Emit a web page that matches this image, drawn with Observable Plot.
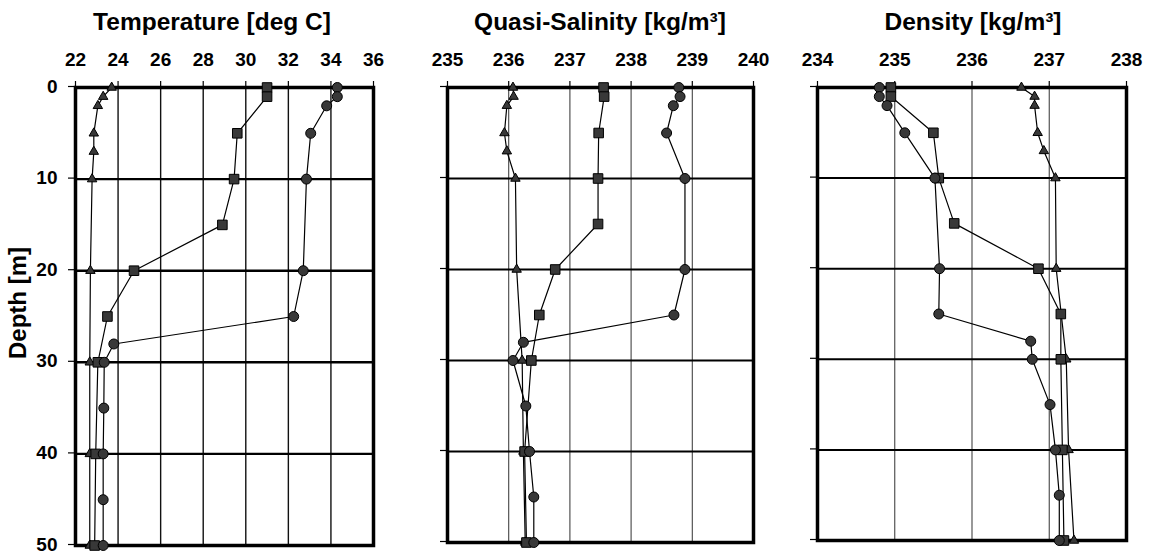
<!DOCTYPE html>
<html><head><meta charset="utf-8">
<script src="https://cdn.jsdelivr.net/npm/d3@7"></script>
<script src="https://cdn.jsdelivr.net/npm/@observablehq/plot@0.6"></script>
<style>
body{margin:0;background:#fff;}
#wrap{position:relative;width:1154px;height:555px;overflow:hidden;font-family:"Liberation Sans",Arial,sans-serif;font-weight:bold;color:#000;}
.title{position:absolute;top:10px;font-size:24.5px;line-height:1;white-space:nowrap;transform:translateX(-50%);}
.panel{position:absolute;top:0;}
#ylab{position:absolute;left:18px;top:303px;transform:translate(-50%,-50%) rotate(-90deg);font-size:24px;line-height:1;white-space:nowrap;}
</style></head>
<body><div id="wrap"></div>
<script>
// Depths (m) for each station / symbol series
const depthCircle = [0, 1, 2, 5, 10, 20, 25, 28, 30, 35, 40, 45, 50];
const depthSquare = [0, 1, 5, 10, 15, 20, 25, 30, 40, 50];
const depthTriangle = [0, 1, 2, 5, 7, 10, 20, 30, 40, 50];

// Temperature [deg C]
const tempCircle = [34.3, 34.3, 33.8, 33.05, 32.85, 32.7, 32.25, 23.8, 23.35, 23.33, 23.3, 23.3, 23.3];
const tempSquare = [31.0, 31.0, 29.6, 29.45, 28.9, 24.75, 23.5, 23.05, 22.95, 22.9];
const tempTriangle = [23.7, 23.3, 23.05, 22.86, 22.86, 22.78, 22.7, 22.67, 22.67, 22.67];

// Quasi-Salinity [kg/m3]
const salCircle = [238.78, 238.8, 238.69, 238.58, 238.88, 238.88, 238.7, 236.24, 236.07, 236.28, 236.34, 236.41, 236.41];
const salSquare = [237.55, 237.56, 237.47, 237.46, 237.46, 236.76, 236.5, 236.37, 236.26, 236.29];
const salTriangle = [236.07, 236.08, 235.97, 235.93, 235.97, 236.11, 236.13, 236.22, 236.24, 236.27];

// Density [kg/m3]
const denCircle = [234.8, 234.8, 234.9, 235.13, 235.52, 235.58, 235.57, 236.76, 236.78, 237.01, 237.08, 237.13, 237.13];
const denSquare = [234.95, 234.95, 235.5, 235.57, 235.77, 236.86, 237.15, 237.15, 237.17, 237.19];
const denTriangle = [236.64, 236.81, 236.81, 236.85, 236.93, 237.08, 237.09, 237.22, 237.25, 237.32];

// Axis ticks
const tempTicks = [22, 24, 26, 28, 30, 32, 34, 36];
const salTicks = [235, 236, 237, 238, 239, 240];
const denTicks = [234, 235, 236, 237, 238];
const depthTicks = [0, 10, 20, 30, 40, 50];
const depthGrid = [10, 20, 30, 40];

const titles = ["Temperature [deg C]", "Quasi-Salinity [kg/m\u00b3]", "Density [kg/m\u00b3]"];

const wrap = document.getElementById("wrap");

function rows(depths, values) {
  return depths.map((d, i) => ({depth: d, value: values[i]}));
}

function panel(cfg) {
  const c = rows(depthCircle, cfg.circ);
  const s = rows(depthSquare, cfg.sq);
  const t = rows(depthTriangle, cfg.tri);
  const fill = "#383838";
  const plot = Plot.plot({
    width: cfg.width,
    height: cfg.height,
    marginLeft: cfg.mL,
    marginRight: cfg.mR,
    marginTop: 87,
    marginBottom: cfg.mB,
    style: {fontFamily: '"Liberation Sans", Arial, sans-serif', fontSize: "19px", fontWeight: "bold", color: "#000", background: "transparent", overflow: "visible"},
    x: {domain: cfg.domain},
    y: {domain: [0, 50], reverse: true},
    marks: [
      Plot.ruleX(cfg.ticks, {stroke: cfg.vColor, strokeWidth: cfg.vW}),
      Plot.ruleY(depthGrid, {stroke: "#000", strokeWidth: cfg.hW}),
      Plot.axisX({anchor: "top", ticks: cfg.ticks, tickSize: 7, tickPadding: 15, label: null, tickFormat: d => String(d), strokeWidth: 1.2}),
      Plot.axisY({anchor: "left", ticks: depthTicks, tickSize: 7, tickPadding: 11, label: null, strokeWidth: 1.2, dy: -1,
        tickFormat: cfg.yLabels ? (d => String(d)) : (() => "")}),
      Plot.frame({stroke: "#000", strokeWidth: 3.5}),
      Plot.line(c, {x: "value", y: "depth", stroke: "#000", strokeWidth: 1.2}),
      Plot.line(s, {x: "value", y: "depth", stroke: "#000", strokeWidth: 1.2}),
      Plot.line(t, {x: "value", y: "depth", stroke: "#000", strokeWidth: 1.2}),
      Plot.dot(t, {x: "value", y: "depth", symbol: "triangle", r: 3.5, fill: fill, stroke: "#000", strokeWidth: 1}),
      Plot.dot(s, {x: "value", y: "depth", symbol: "square", r: 5.4, fill: fill, stroke: "#000", strokeWidth: 1}),
      Plot.dot(c, {x: "value", y: "depth", symbol: "circle", r: 5, fill: fill, stroke: "#000", strokeWidth: 1})
    ]
  });
  const div = document.createElement("div");
  div.className = "panel";
  div.style.left = cfg.left + "px";
  div.appendChild(plot);
  wrap.appendChild(div);

  const tt = document.createElement("div");
  tt.className = "title";
  tt.style.left = cfg.titleX + "px";
  tt.textContent = cfg.title;
  wrap.appendChild(tt);
}

panel({left: 0, width: 390, height: 555, mL: 75, mR: 17, mB: 10, domain: [22, 36], ticks: tempTicks,
  circ: tempCircle, sq: tempSquare, tri: tempTriangle, vColor: "#111", vW: 1.4, hW: 2.4, yLabels: true,
  title: titles[0], titleX: 212});
panel({left: 390, width: 380, height: 555, mL: 57, mR: 17, mB: 13, domain: [235, 240], ticks: salTicks,
  circ: salCircle, sq: salSquare, tri: salTriangle, vColor: "#444", vW: 1.1, hW: 2, yLabels: false,
  title: titles[1], titleX: 600});
panel({left: 770, width: 384, height: 555, mL: 47, mR: 28, mB: 15, domain: [234, 238], ticks: denTicks,
  circ: denCircle, sq: denSquare, tri: denTriangle, vColor: "#444", vW: 1.1, hW: 2, yLabels: false,
  title: titles[2], titleX: 973});

const yl = document.createElement("div");
yl.id = "ylab";
yl.textContent = "Depth [m]";
wrap.appendChild(yl);
</script>
</body></html>
